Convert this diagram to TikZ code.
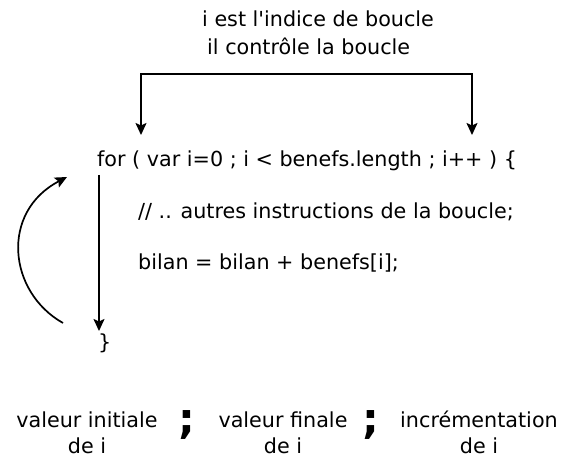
\documentclass[tikz,border=0pt]{standalone}
\usepackage{fontspec}
\setmainfont{DejaVu Sans}
\usetikzlibrary{arrows.meta}
\begin{document}
\begin{tikzpicture}[x=1pt,y=-1pt,
  txt/.style={inner sep=0pt,anchor=base west,font=\fontsize{20.7}{25}\selectfont},
  lbl/.style={inner sep=0pt,anchor=base,align=center,font=\fontsize{20.7}{25}\selectfont},
  semi/.style={inner sep=0pt,anchor=base,font=\fontsize{42}{42}\selectfont\bfseries},
  tip/.style={-{Stealth[length=12pt,width=11pt,inset=2.5pt]}},
  ln/.style={line width=1.7pt}]
\useasboundingbox (0,0) rectangle (582,476);
\node[txt] (t1) at (202,27) {i est l\textquotesingle indice de boucle};
\node[txt] (t2) at (207,55) {il contrôle la boucle};
\node[txt] (for) at (97,167) {for ( var i=0 ; i < benefs.length ; i++ ) \{};
\node[txt] (c1) at (138,219) {// .. autres instructions de la boucle;};
\node[txt] (c2) at (138,270) {bilan = bilan + benefs[i];};
\node[txt] (end) at (98,349) {\}};
\coordinate (bl) at (141,74);
\coordinate (br) at (472,74);
\coordinate (al) at (141,135);
\coordinate (ar) at (472,135);
\draw[ln,line cap=rect] (bl) -- (br);
\draw[ln,tip] (bl) -- (al);
\draw[ln,tip] (br) -- (ar);
\coordinate (vtop) at (99,175);
\coordinate (vbot) at (99,331);
\draw[ln,tip] (vtop) -- (vbot);
\coordinate (cs) at (63,323);
\coordinate (ce) at (67,177);
\draw[ln,tip] (cs) .. controls (8,292) and (0,212) .. (ce);
\node[lbl] (v1) at (87,453) {valeur initiale\\de i};
\node[semi] (s1) at (187,433) {;};
\node[lbl] (v2) at (283,453) {valeur finale\\de i};
\node[semi] (s2) at (371,433) {;};
\node[lbl] (v3) at (479,453) {incrémentation\\de i};
\end{tikzpicture}
\end{document}
